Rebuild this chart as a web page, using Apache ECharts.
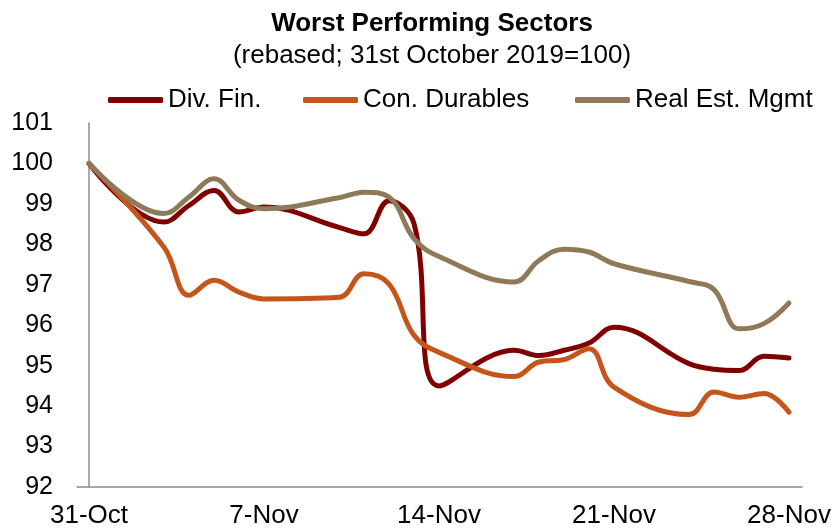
<!DOCTYPE html>
<html>
<head>
<meta charset="utf-8">
<script src="https://cdn.jsdelivr.net/npm/echarts@6/dist/echarts.min.js"></script>
<style>
    html, body { margin: 0; padding: 0; background: #fff; }
    #chart { width: 840px; height: 531px; }
</style>
</head>
<body>
<div id="chart"></div>
<script>
// trading days (Tadawul, Sun-Thu)
const dates = [
    "2019-10-31", "2019-11-03", "2019-11-04", "2019-11-05", "2019-11-06", "2019-11-07",
    "2019-11-10", "2019-11-11", "2019-11-12", "2019-11-13", "2019-11-14",
    "2019-11-17", "2019-11-18", "2019-11-19", "2019-11-20", "2019-11-21",
    "2019-11-24", "2019-11-25", "2019-11-26", "2019-11-27", "2019-11-28",
];
const divFin = [100, 98.55, 98.96, 99.33, 98.8, 98.92, 98.42, 98.26, 99.08, 98.51, 94.5,
    95.38, 95.25, 95.38, 95.56, 95.95, 95.05, 94.91, 94.88, 95.23, 95.19];
const conDurables = [100, 97.93, 96.74, 97.11, 96.82, 96.65, 96.69, 97.27, 97.02, 95.75, 95.33,
    94.73, 95.09, 95.15, 95.42, 94.47, 93.79, 94.35, 94.22, 94.31, 93.85];
const realEst = [100, 98.76, 99.17, 99.62, 99.09, 98.88, 99.15, 99.29, 99.17, 98.14, 97.7,
    97.07, 97.6, 97.88, 97.81, 97.52, 97.08, 96.88, 95.91, 96.04, 96.55];
const tickDates = ["2019-10-31", "2019-11-07", "2019-11-14", "2019-11-21", "2019-11-28"];
const tickLabels = ["31-Oct", "7-Nov", "14-Nov", "21-Nov", "28-Nov"];

const DAY = 86400000;
const t0 = Date.parse(dates[0]);
const dayOf = (d) => (Date.parse(d) - t0) / DAY;
const pairs = (vals) => vals.map((v, i) => [dayOf(dates[i]), v]);
const tickDays = tickDates.map(dayOf);

const font = "'Liberation Sans', Arial, sans-serif";
const axisGrey = "#8c8c8c";

const myChart = echarts.init(document.getElementById("chart"));

const option = {
    animation: false,
    title: [
        {
            text: "Worst Performing Sectors",
            left: 427,
            textAlign: "center",
            top: 6,
            textStyle: { fontFamily: font, fontSize: 26, fontWeight: "bold", color: "#000" },
        },
        {
            text: "(rebased; 31st October 2019=100)",
            left: 427,
            textAlign: "center",
            top: 38,
            textStyle: { fontFamily: font, fontSize: 26, fontWeight: "normal", color: "#000" },
        },
    ],
    legend: [
        { data: ["Div. Fin."], left: 103 },
        { data: ["Con. Durables"], left: 298 },
        { data: ["Real Est. Mgmt"], left: 570 },
    ].map((l) => ({
        ...l,
        top: 82,
        icon: "roundRect",
        itemWidth: 55,
        itemHeight: 6,
        textStyle: { fontFamily: font, fontSize: 26, color: "#000" },
    })),
    grid: { left: 77, right: 38, top: 123, bottom: 44 },
    xAxis: {
        type: "value",
        min: -0.48,
        max: 28.52,
        splitLine: { show: false },
        axisTick: { show: false },
        axisLine: { show: true, onZero: false, lineStyle: { color: axisGrey, width: 1.5 } },
        axisLabel: {
            customValues: tickDays,
            formatter: (v) => tickLabels[tickDays.indexOf(v)] || "",
            fontFamily: font,
            fontSize: 26,
            color: "#000",
            margin: 16,
        },
    },
    yAxis: {
        type: "value",
        min: 92,
        max: 101,
        interval: 1,
        splitLine: { show: false },
        axisTick: { show: false },
        axisLine: { show: true, lineStyle: { color: axisGrey, width: 1.5 } },
        axisLabel: { fontFamily: font, fontSize: 25, color: "#000", margin: 24 },
    },
    series: [
        { name: "Div. Fin.", data: pairs(divFin), color: "#800000" },
        { name: "Con. Durables", data: pairs(conDurables), color: "#C4561B" },
        { name: "Real Est. Mgmt", data: pairs(realEst), color: "#8E7A58" },
    ].map((s) => ({
        ...s,
        type: "line",
        smooth: 0.4,
        showSymbol: false,
        lineStyle: { width: 5, cap: "round", join: "round" },
    })),
};
option && myChart.setOption(option);
</script>
</body>
</html>
